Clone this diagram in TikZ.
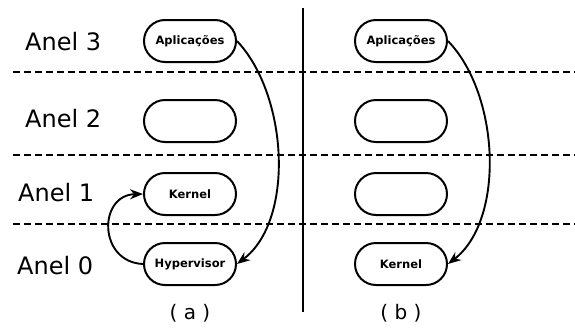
\documentclass[tikz,border=0pt]{standalone}
\usepackage{fontspec}
\setmainfont{DejaVu Sans}
\usetikzlibrary{arrows.meta,shapes.misc}
\begin{document}
\begin{tikzpicture}[x=1pt,y=-1pt,
  ring/.style={draw,line width=2pt,rounded rectangle,minimum width=92pt,minimum height=42pt,inner sep=0pt,font=\bfseries\fontsize{11.5}{13}\selectfont},
  ringlabel/.style={anchor=west,inner sep=0pt,font=\fontsize{24}{28}\selectfont},
  sep/.style={line width=2pt,dash pattern=on 7pt off 4pt},
  flow/.style={line width=1.9pt,-{Stealth[length=13pt,width=10pt]}},
  caption/.style={inner sep=0pt,font=\fontsize{20}{24}\selectfont}]
\useasboundingbox (0,0) rectangle (575,327);

% ring separators and the divider between (a) and (b)
\coordinate (s1l) at (13,72);  \coordinate (s1r) at (575,72);
\coordinate (s2l) at (13,155); \coordinate (s2r) at (575,155);
\coordinate (s3l) at (13,224); \coordinate (s3r) at (575,224);
\draw[sep] (s1l) -- (s1r);
\draw[sep] (s2l) -- (s2r);
\draw[sep] (s3l) -- (s3r);
\coordinate (vtop) at (303,8); \coordinate (vbot) at (303,312);
\draw[line width=2pt] (vtop) -- (vbot);

% ring names
\node[ringlabel] (r3) at (25,42) {Anel 3};
\node[ringlabel] (r2) at (25,119) {Anel 2};
\node[ringlabel] (r1) at (18,193) {Anel 1};
\node[ringlabel] (r0) at (17,266) {Anel 0};

% (a)
\node[ring] (a3) at (190,41) {Aplicações};
\node[ring] (a2) at (190,121) {};
\node[ring] (a1) at (190,194) {Kernel};
\node[ring] (a0) at (190,264) {Hypervisor};
\draw[flow] (a3.east) .. controls (288,95) and (295,220) .. (a0.east);
\draw[flow] (a0.west) .. controls (98,262) and (98,195) .. (a1.west);
\node[caption] (ca) at (190,313) {( a )};

% (b)
\node[ring] (b3) at (401,41) {Aplicações};
\node[ring] (b2) at (401,121) {};
\node[ring] (b1) at (401,194) {};
\node[ring] (b0) at (401,264) {Kernel};
\draw[flow] (b3.east) .. controls (500,95) and (505,220) .. (b0.east);
\node[caption] (cb) at (401,313) {( b )};
\end{tikzpicture}
\end{document}
